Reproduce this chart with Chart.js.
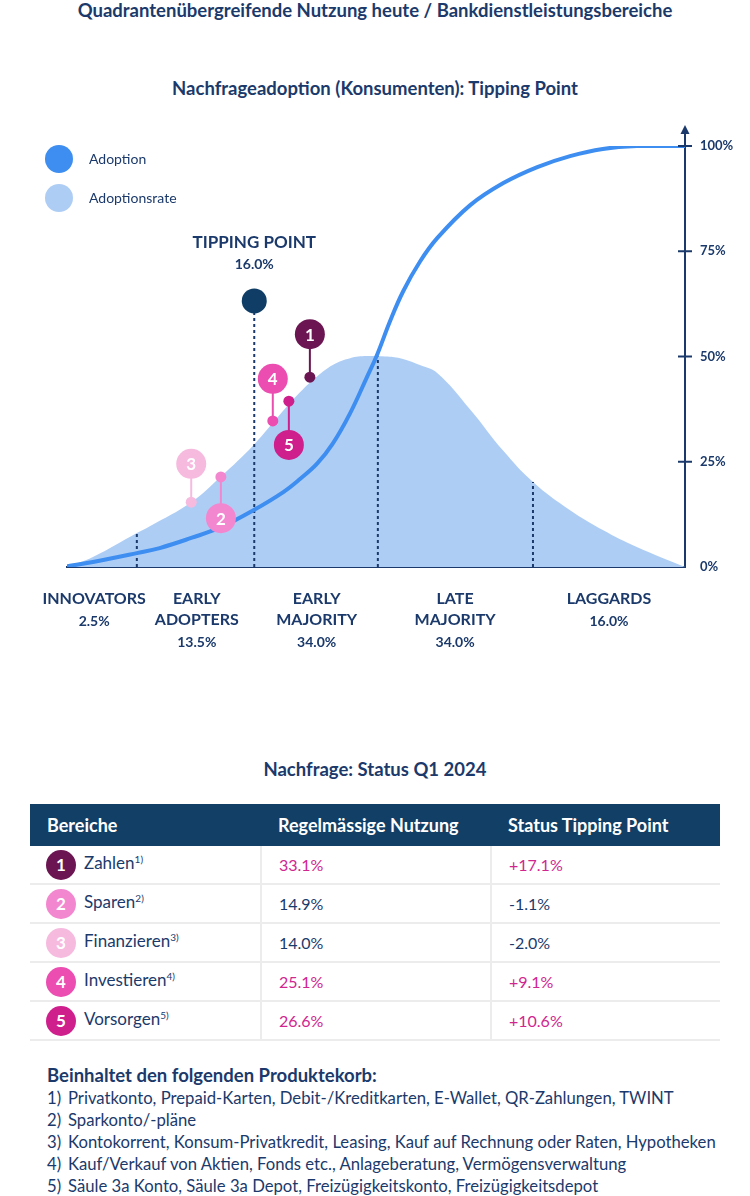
<!DOCTYPE html>
<html lang="de">
<head>
<meta charset="utf-8">
<script src="https://cdn.jsdelivr.net/npm/chart.js@4.4.1/dist/chart.umd.min.js"></script>
<style>
  body { margin: 0; background: #fff; font-family: Lato, "Noto Sans", sans-serif; color: #1b3a6b; }
  #page { position: relative; width: 750px; height: 1196px; overflow: hidden; }
  .title { position: absolute; left: 0; width: 750px; text-align: center; font-weight: 700; font-size: 18.5px; line-height: 22px; }
  #chartBox { position: absolute; left: 0; top: 0; width: 750px; height: 680px; }
  .legDot { position: absolute; left: 45px; width: 28px; height: 28px; border-radius: 50%; }
  .legText { position: absolute; left: 89px; font-size: 14px; line-height: 20px; }
  #tbl { position: absolute; left: 30px; top: 804px; width: 690px; border-collapse: collapse; table-layout: fixed; }
  #tbl th { background: #123f66; color: #fff; text-align: left; font-weight: 700; font-size: 18px; height: 42px; padding: 0 0 0 17px; }
  #tbl td { height: 37px; padding: 0 0 0 17px; font-size: 16px; border-bottom: 2px solid #ececec; }
  #tbl td + td { border-left: 2px solid #ececec; }
  #tbl td.name { padding-left: 16px; font-size: 17px; }
  .num { display: inline-block; width: 30px; height: 30px; border-radius: 50%; color: #fff; font-weight: 700;
         text-align: center; line-height: 30px; vertical-align: middle; margin-right: 8px; font-size: 17px; }
  sup { font-size: 10px; }
  .pos { color: #d0268f; }
  #notes { position: absolute; left: 47px; top: 1064px; font-size: 16.7px; line-height: 22px; }
  #notes b { font-size: 18.5px; }
  .fn { display: inline-block; width: 21px; }
</style>
</head>
<body>
<div id="page">
  <div class="title" style="top:-1px">Quadrantenübergreifende Nutzung heute / Bankdienstleistungsbereiche</div>
  <div class="title" style="top:77px">Nachfrageadoption (Konsumenten): Tipping Point</div>
  <div id="chartBox"><canvas id="myChart" width="750" height="680"></canvas></div>
  <div class="legDot" style="top:145px;background:#3d8ef0"></div>
  <div class="legText" style="top:149px">Adoption</div>
  <div class="legDot" style="top:184px;background:#aecdf5"></div>
  <div class="legText" style="top:188px">Adoptionsrate</div>

  <div class="title" style="top:758px">Nachfrage: Status Q1 2024</div>
  <table id="tbl">
    <colgroup><col style="width:231px"><col style="width:230px"><col style="width:229px"></colgroup>
    <thead><tr><th>Bereiche</th><th>Regelmässige Nutzung</th><th>Status Tipping Point</th></tr></thead>
    <tbody id="rows"></tbody>
  </table>
  <div id="notes"></div>
</div>
<script>
// adoption curve (S-curve), x = position along axis 0..100, y = percent
const adoptionX = [0, 4.2, 11.3, 15.0, 20.1, 24.8, 30.3, 35.0, 37.7, 40.5, 43.0, 45.8, 48.5, 50.2, 52.3, 54.4, 57.1, 59.9, 65.2, 70.6, 76.1, 81.4, 86.7, 92.2, 100];
const adoptionY = [0.2, 1.2, 3.3, 4.5, 6.9, 9.4, 13.6, 17.8, 20.9, 24.6, 29.3, 36.5, 45.0, 50.5, 58.5, 65.5, 72.5, 78.1, 85.9, 91.2, 95.0, 97.6, 99.3, 100, 100];

// adoption rate (bell curve)
const rateX = [0, 4.2, 11.3, 13.4, 20.1, 24.9, 30.2, 34.8, 37.7, 40.5, 43.0, 45.8, 48.5, 51.5, 53.9, 57.1, 59.9, 65.2, 70.6, 75.4, 81.4, 86.7, 92.2, 100];
const rateY = [0, 2.4, 8.1, 9.7, 15.4, 21.5, 29.0, 36.8, 41.5, 45.3, 48.0, 49.6, 50.1, 50.0, 49.6, 48.0, 46.1, 37.5, 27.6, 20.2, 13.5, 8.8, 4.75, 0];

const yTicks = [0, 25, 50, 75, 100];

// segment boundaries (dashed lines)
const boundaryX = [11.3, 30.3, 50.3, 75.4];
const boundaryTop = [8.0, 63.2, 50.0, 20.2];

const tippingX = [30.3];
const tippingY = [63.2];
const tippingLabel = ["TIPPING POINT", "16.0%"];

const segmentLines = [["INNOVATORS"], ["EARLY", "ADOPTERS"], ["EARLY", "MAJORITY"], ["LATE", "MAJORITY"], ["LAGGARDS"]];
const segmentShares = ["2.5%", "13.5%", "34.0%", "34.0%", "16.0%"];
const segmentCenters = [4.4, 21.0, 40.4, 62.8, 87.7];

// Bereiche
const areaIds = ["1", "2", "3", "4", "5"];
const areaNames = ["Zahlen", "Sparen", "Finanzieren", "Investieren", "Vorsorgen"];
const areaUsage = ["33.1%", "14.9%", "14.0%", "25.1%", "26.6%"];
const areaStatus = ["+17.1%", "-1.1%", "-2.0%", "+9.1%", "+10.6%"];
const areaColors = ["#6b1652", "#f387cf", "#f7badf", "#eb4db1", "#cf1f8c"];
const markerX = [39.3, 24.9, 20.1, 33.3, 35.9];
const markerDotY = [45.1, 21.4, 15.4, 34.7, 39.4];
const markerLabelY = [55.3, 11.6, 24.5, 44.7, 29.0];

const basket = [
  "Privatkonto, Prepaid-Karten, Debit-/Kreditkarten, E-Wallet, QR-Zahlungen, TWINT",
  "Sparkonto/-pläne",
  "Kontokorrent, Konsum-Privatkredit, Leasing, Kauf auf Rechnung oder Raten, Hypotheken",
  "Kauf/Verkauf von Aktien, Fonds etc., Anlageberatung, Vermögensverwaltung",
  "Säule 3a Konto, Säule 3a Depot, Freizügigkeitskonto, Freizügigkeitsdepot"
];

const NAVY = "#1b3a6b";

function pts(xs, ys) {
  return xs.map((x, i) => ({ x: x, y: ys[i] }));
}

let datasets = [];
// big numbered circles
datasets.push({
  data: pts(markerX, markerLabelY), showLine: false,
  pointRadius: 15, pointBackgroundColor: areaColors, pointBorderWidth: 0, order: 0
});
datasets.push({
  data: pts(tippingX, tippingY), showLine: false,
  pointRadius: 12.5, pointBackgroundColor: "#0f3d66", pointBorderWidth: 0, order: 0
});
// small dots
datasets.push({
  data: pts(markerX, markerDotY), showLine: false,
  pointRadius: 5.5, pointBackgroundColor: areaColors, pointBorderWidth: 0, order: 1
});
// connectors
markerX.forEach((x, i) => {
  datasets.push({
    data: [{ x: x, y: markerDotY[i] }, { x: x, y: markerLabelY[i] }],
    borderColor: areaColors[i], borderWidth: 2, pointRadius: 0, order: 2
  });
});
// adoption
datasets.push({
  label: "Adoption", data: pts(adoptionX, adoptionY), borderColor: "#3d8ef0", borderWidth: 4,
  pointRadius: 0, tension: 0.4, order: 3
});
// dashed boundaries
boundaryX.forEach((x, i) => {
  datasets.push({
    data: [{ x: x, y: 0 }, { x: x, y: boundaryTop[i] }],
    borderColor: NAVY, borderWidth: 2, borderDash: [3, 3], pointRadius: 0, order: 4
  });
});
// adoption rate
datasets.push({
  label: "Adoptionsrate", data: pts(rateX, rateY), borderWidth: 0, borderColor: "#aecdf5",
  backgroundColor: "#aecdf5", fill: "origin", pointRadius: 0, tension: 0.4, order: 5
});

const overlay = {
  id: "overlay",
  afterDatasetsDraw(chart) {
    const ctx = chart.ctx;
    ctx.save();
    ctx.textAlign = "center";
    ctx.textBaseline = "middle";
    ctx.fillStyle = "#fff";
    ctx.font = "700 17px Lato";
    chart.getDatasetMeta(0).data.forEach((el, i) => {
      ctx.fillText(areaIds[i], el.x, el.y + 1);
    });
    const tp = chart.getDatasetMeta(1).data[0];
    ctx.fillStyle = NAVY;
    ctx.font = "700 17px Lato";
    ctx.fillText(tippingLabel[0], tp.x, tp.y - 58);
    ctx.font = "700 14px Lato";
    ctx.fillText(tippingLabel[1], tp.x, tp.y - 36);
    ctx.restore();
  },
  afterDraw(chart) {
    const ctx = chart.ctx;
    const xs = chart.scales.x, ys = chart.scales.y;
    const right = chart.chartArea.right, bottom = chart.chartArea.bottom;
    ctx.save();
    ctx.strokeStyle = NAVY;
    ctx.fillStyle = NAVY;
    ctx.lineWidth = 2;
    // tick marks crossing the axis
    yTicks.forEach(v => {
      if (v === 0) return;
      const y = ys.getPixelForValue(v);
      ctx.beginPath();
      ctx.moveTo(right - 7, y);
      ctx.lineTo(right + 7, y);
      ctx.stroke();
    });
    // axis extension and arrow
    const top = ys.getPixelForValue(100);
    ctx.beginPath();
    ctx.moveTo(right, top);
    ctx.lineTo(right, top - 14);
    ctx.stroke();
    ctx.beginPath();
    ctx.moveTo(right, top - 21);
    ctx.lineTo(right - 4.5, top - 12);
    ctx.lineTo(right + 4.5, top - 12);
    ctx.closePath();
    ctx.fill();
    // segment labels
    ctx.textAlign = "center";
    ctx.textBaseline = "middle";
    segmentLines.forEach((lines, i) => {
      const cx = xs.getPixelForValue(segmentCenters[i]);
      ctx.font = "700 16px Lato";
      lines.forEach((t, j) => ctx.fillText(t, cx, bottom + 32 + j * 21));
      ctx.font = "700 14px Lato";
      ctx.fillText(segmentShares[i], cx, bottom + 32 + lines.length * 21 + 1);
    });
    ctx.restore();
  }
};

const chart = new Chart(document.getElementById("myChart"), {
  type: "line",
  data: { datasets: datasets },
  options: {
    responsive: false,
    animation: false,
    layout: { padding: { left: 67, right: 0, top: 146, bottom: 113 } },
    plugins: { legend: { display: false }, tooltip: { enabled: false } },
    scales: {
      x: {
        type: "linear", min: 0, max: 100,
        ticks: { display: false },
        grid: { display: false, drawTicks: false },
        border: { display: true, color: NAVY, width: 2 }
      },
      y: {
        position: "right", min: 0, max: 100,
        afterFit(s) { s.width = 65; },
        afterBuildTicks(s) { s.ticks = yTicks.map(v => ({ value: v })); },
        grid: { display: false, drawTicks: false },
        border: { display: true, color: NAVY, width: 2 },
        ticks: {
          padding: 15, color: NAVY,
          font: { family: "Lato", size: 13, weight: "700" },
          callback: v => v + "%"
        }
      }
    }
  },
  plugins: [overlay]
});

// table
let rowsHtml = "";
areaIds.forEach((id, i) => {
  const cls = areaStatus[i].charAt(0) === "+" ? "pos" : "";
  rowsHtml += "<tr><td class='name'><span class='num' style='background:" + areaColors[i] + "'>" + id + "</span>" +
    areaNames[i] + "<sup>" + id + ")</sup></td>" +
    "<td class='" + cls + "'>" + areaUsage[i] + "</td>" +
    "<td class='" + cls + "'>" + areaStatus[i] + "</td></tr>";
});
document.getElementById("rows").innerHTML = rowsHtml;

let notesHtml = "<b>Beinhaltet den folgenden Produktekorb:</b><br>";
basket.forEach((t, i) => {
  notesHtml += "<span class='fn'>" + (i + 1) + ")</span>" + t + "<br>";
});
document.getElementById("notes").innerHTML = notesHtml;
</script>
</body>
</html>
